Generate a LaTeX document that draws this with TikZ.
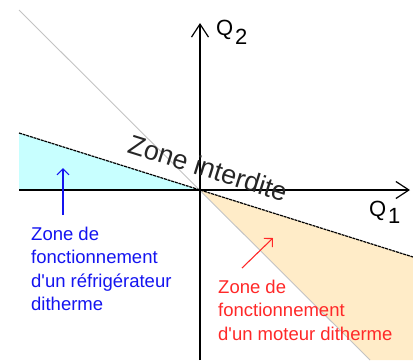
\documentclass[tikz,border=0pt]{standalone}
\usepackage{fontspec}
\newfontfamily\lib{Liberation Sans}
\usetikzlibrary{arrows.meta}
\definecolor{cyanfill}{RGB}{200,255,255}
\definecolor{orangefill}{RGB}{255,236,200}
\definecolor{diaggray}{RGB}{195,195,195}
\definecolor{bluetxt}{RGB}{20,20,240}
\definecolor{redtxt}{RGB}{255,40,40}
\begin{document}
\begin{tikzpicture}[x=1pt,y=-1pt,
  axis/.style={line width=1.4pt,-{Straight Barb[length=13pt,width=17pt,line width=1.2pt]}},
  zoneline/.style={line width=1.2pt,dash pattern=on 3pt off 0.8pt},
  diagline/.style={diaggray,line width=0.9pt},
  pointer/.style={line width=1.1pt,-{Straight Barb[length=6pt,width=12pt]}},
  zonetext/.style={align=left,inner sep=0pt,anchor=north west,font=\lib\fontsize{18.5}{23.5}\selectfont},
  qlabel/.style={inner sep=0pt,anchor=base west,font=\lib\fontsize{22}{24}\selectfont}]
\useasboundingbox (0,0) rectangle (413,360);
\coordinate (O) at (200,190);
\coordinate (L1) at (19,133);
\coordinate (L2) at (413,257);
\coordinate (D1) at (19,10);
\coordinate (D2) at (370,360);
\coordinate (X1) at (19,190);
\coordinate (X2) at (410,190);
\coordinate (Y1) at (200,360);
\coordinate (Y2) at (200,23);
\coordinate (BR) at (413,360);
% fills
\fill[cyanfill] (L1) -- (O) -- (X1) -- cycle;
\fill[orangefill] (O) -- (L2) -- (BR) -- (D2) -- cycle;
% lines
\draw[diagline] (D1) -- (D2);
\draw[axis] (X1) -- (X2);
\draw[axis] (Y1) -- (Y2);
\draw[zoneline] (L1) -- (L2);
% labels
\node[qlabel] (q2) at (216,35) {Q};
\node[qlabel] (q2i) at (235,44) {2};
\node[qlabel] (q1) at (369,216) {Q};
\node[qlabel] (q1i) at (388,223) {1};
\node[font=\lib\fontsize{27}{30}\selectfont,text=black!85,rotate=-17.5,inner sep=0pt] (zi) at (208,168) {Zone interdite};
% refrigerator
\coordinate (ba) at (63,215);
\coordinate (bb) at (63,168);
\draw[pointer,bluetxt] (ba) -- (bb);
\node[zonetext,text=bluetxt] (frig) at (31,226.5) {Zone de\\fonctionnement\\d'un réfrigérateur\\ditherme};
% engine
\coordinate (ra) at (242,268);
\coordinate (rb) at (273,238);
\draw[pointer,redtxt] (ra) -- (rb);
\node[zonetext,text=redtxt] (mot) at (218,279.5) {Zone de\\fonctionnement\\d'un moteur ditherme};
\end{tikzpicture}
\end{document}
